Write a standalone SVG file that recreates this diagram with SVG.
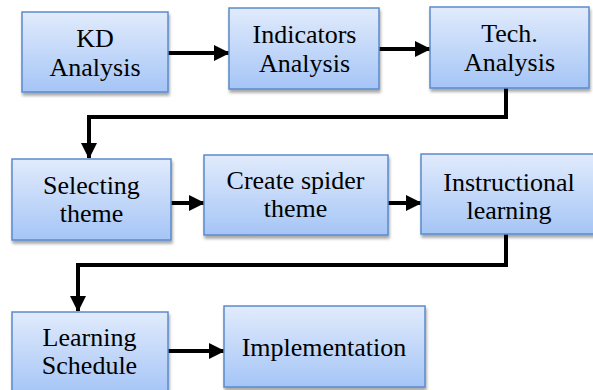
<svg xmlns="http://www.w3.org/2000/svg" width="593" height="390" viewBox="0 0 593 390">
<defs>
<linearGradient id="g" x1="0" y1="0" x2="0" y2="1">
<stop offset="0" stop-color="#e1ebfc"/>
<stop offset="1" stop-color="#a5c5f6"/>
</linearGradient>
<filter id="sh" x="-10%" y="-10%" width="125%" height="130%">
<feGaussianBlur in="SourceAlpha" stdDeviation="1.5"/>
<feOffset dx="1" dy="3" result="b"/>
<feComponentTransfer><feFuncA type="linear" slope="0.35"/></feComponentTransfer>
<feMerge><feMergeNode/><feMergeNode in="SourceGraphic"/></feMerge>
</filter>
<marker id="ah" markerWidth="16" markerHeight="16" refX="15" refY="8" orient="auto" markerUnits="userSpaceOnUse">
<path d="M0,0 L16,8 L0,16 Z" fill="#000"/>
</marker>
</defs>
<style>
.box{fill:url(#g);stroke:#5a8bcb;stroke-width:1.5;filter:url(#sh)}
.t{font-family:"Liberation Serif","Times New Roman",serif;font-size:26px;fill:#000;text-anchor:middle}
.c{fill:none;stroke:#000;stroke-width:4;marker-end:url(#ah)}
</style>
<rect width="593" height="390" fill="#fff"/>
<g id="connectors">
<path class="c" d="M168,53 H229"/>
<path class="c" d="M379,49 H430"/>
<path class="c" d="M506,88 V117 H89 V158"/>
<path class="c" d="M171,203 H204"/>
<path class="c" d="M388,203 H421"/>
<path class="c" d="M506,234 V265 H78 V311"/>
<path class="c" d="M168,351 H224"/>
</g>
<g id="kd"><rect class="box" x="22" y="12" width="146" height="80"/><text class="t" x="95" y="47">KD</text><text class="t" x="95" y="76">Analysis</text></g>
<g id="indicators"><rect class="box" x="229" y="8" width="150" height="81"/><text class="t" x="304.5" y="43">Indicators</text><text class="t" x="304.5" y="72">Analysis</text></g>
<g id="tech"><rect class="box" x="430" y="7" width="159" height="81"/><text class="t" x="509.5" y="42">Tech.</text><text class="t" x="509.5" y="71">Analysis</text></g>
<g id="selecting"><rect class="box" x="12" y="159" width="159" height="81"/><text class="t" x="91.5" y="194">Selecting</text><text class="t" x="91.5" y="222">theme</text></g>
<g id="spider"><rect class="box" x="204" y="155" width="184" height="80"/><text class="t" x="295.5" y="189">Create spider</text><text class="t" x="295.5" y="217">theme</text></g>
<g id="instructional"><rect class="box" x="421" y="154" width="175" height="80"/><text class="t" x="509" y="191">Instructional</text><text class="t" x="509" y="219">learning</text></g>
<g id="schedule"><rect class="box" x="12" y="312" width="156" height="82"/><text class="t" x="89.5" y="346">Learning</text><text class="t" x="89.5" y="374">Schedule</text></g>
<g id="implementation"><rect class="box" x="224" y="306" width="201" height="81"/><text class="t" x="324" y="356" font-size="24">Implementation</text></g>
</svg>
